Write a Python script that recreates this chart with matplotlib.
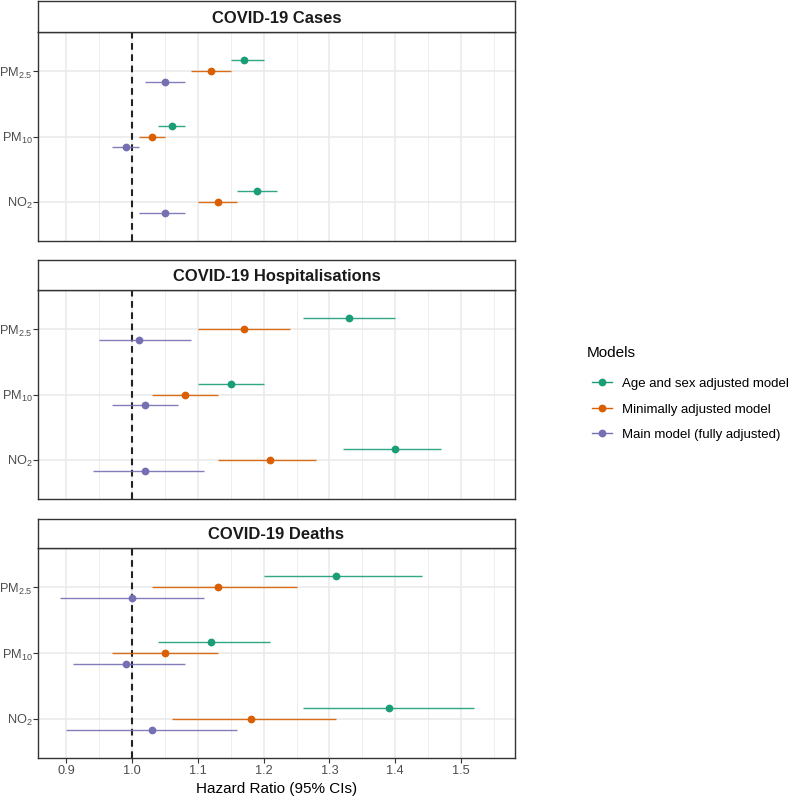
import matplotlib
matplotlib.use("Agg")
import matplotlib.pyplot as plt
from matplotlib.lines import Line2D
import numpy as np

plt.rcParams['font.family'] = ['Liberation Sans', 'DejaVu Sans']
plt.rcParams['mathtext.fontset'] = 'custom'
plt.rcParams['mathtext.rm'] = 'Liberation Sans'
plt.rcParams['mathtext.it'] = 'Liberation Sans:italic'
plt.rcParams['mathtext.bf'] = 'Liberation Sans:bold'

# ---- data ----
outcomes = ["COVID-19 Cases", "COVID-19 Hospitalisations", "COVID-19 Deaths"]
pollutants = ["NO2", "PM10", "PM2.5"]  # bottom -> top
pollutant_labels = [r"NO$_{\mathregular{2}}$", r"PM$_{\mathregular{10}}$", r"PM$_{\mathregular{2.5}}$"]
models = ["Age and sex adjusted model", "Minimally adjusted model", "Main model (fully adjusted)"]
model_colors = ["#1B9E77", "#D95F02", "#7570B3"]

# values ordered [NO2, PM10, PM2.5] per model
cases_est = [[1.19, 1.06, 1.17], [1.13, 1.03, 1.12], [1.05, 0.99, 1.05]]
cases_lo  = [[1.16, 1.04, 1.15], [1.10, 1.01, 1.09], [1.01, 0.97, 1.02]]
cases_hi  = [[1.22, 1.08, 1.20], [1.16, 1.05, 1.15], [1.08, 1.01, 1.08]]

hosp_est = [[1.40, 1.15, 1.33], [1.21, 1.08, 1.17], [1.02, 1.02, 1.01]]
hosp_lo  = [[1.32, 1.10, 1.26], [1.13, 1.03, 1.10], [0.94, 0.97, 0.95]]
hosp_hi  = [[1.47, 1.20, 1.40], [1.28, 1.13, 1.24], [1.11, 1.07, 1.09]]

death_est = [[1.39, 1.12, 1.31], [1.18, 1.05, 1.13], [1.03, 0.99, 1.00]]
death_lo  = [[1.26, 1.04, 1.20], [1.06, 0.97, 1.03], [0.90, 0.91, 0.89]]
death_hi  = [[1.52, 1.21, 1.44], [1.31, 1.13, 1.25], [1.16, 1.08, 1.11]]

x_ticks = [0.9, 1.0, 1.1, 1.2, 1.3, 1.4, 1.5]
x_minor = [0.95, 1.05, 1.15, 1.25, 1.35, 1.45, 1.55]
x_label = "Hazard Ratio (95% CIs)"
legend_title = "Models"

panels = [(cases_est, cases_lo, cases_hi), (hosp_est, hosp_lo, hosp_hi), (death_est, death_lo, death_hi)]

W, H = 790, 800
fig = plt.figure(figsize=(W / 100, H / 100), dpi=100)

left_px, right_px = 38, 515
panel_px = [(32, 241, 1), (290, 499, 260), (548, 758, 519)]  # plot top, plot bottom, strip top

offsets = [0.167, 0.0, -0.167]
grid_col = "#EBEBEB"
border_col = "#333333"

for i, (outcome, (est, lo, hi)) in enumerate(zip(outcomes, panels)):
    top, bot, stop = panel_px[i]
    ax = fig.add_axes([left_px / W, 1 - bot / H, (right_px - left_px) / W, (bot - top) / H])
    ax.set_xlim(0.857, 1.582)
    ax.set_ylim(0.4, 3.6)
    ypos = np.arange(1, len(pollutants) + 1)
    # grids
    for xm in x_minor:
        ax.axvline(xm, color=grid_col, lw=0.6, zorder=0)
    for xt in x_ticks:
        ax.axvline(xt, color=grid_col, lw=1.2, zorder=0)
    for yp in ypos:
        ax.axhline(yp, color=grid_col, lw=1.2, zorder=0)
    ax.axvline(1.0, color="#222222", lw=1.5, ls=(0, (3.2, 2.2)), zorder=1)
    for m in range(len(models)):
        yy = ypos + offsets[m]
        ax.hlines(yy, lo[m], hi[m], color=model_colors[m], lw=1.0, alpha=0.9, zorder=2)
        ax.plot(est[m], yy, 'o', color=model_colors[m], ms=5.6, mec='none', zorder=3)
    ax.set_yticks(ypos)
    ax.set_yticklabels(pollutant_labels, fontsize=9.2, color="#4D4D4D")
    ax.set_xticks(x_ticks)
    ax.tick_params(axis='both', length=3.3, width=0.8, color="#333333", pad=1.5)
    ax.tick_params(axis='y', pad=0.6)
    if i < 2:
        ax.tick_params(axis='x', bottom=False, labelbottom=False)
    else:
        ax.set_xticklabels([f"{v:.1f}" for v in x_ticks], fontsize=9.2, color="#4D4D4D")
        ax.set_xlabel(x_label, fontsize=11, color="black", labelpad=4)
    for s in ax.spines.values():
        s.set_color(border_col)
        s.set_linewidth(1.0)
    # strip
    sax = fig.add_axes([left_px / W, 1 - top / H, (right_px - left_px) / W, (top - stop) / H])
    sax.set_xticks([]); sax.set_yticks([])
    sax.set_facecolor("white")
    for s in sax.spines.values():
        s.set_color(border_col)
        s.set_linewidth(1.0)
    sax.text(0.5, 0.45, outcome, ha='center', va='center', fontsize=11.9, fontweight='bold',
             color="#1A1A1A", transform=sax.transAxes)

fig.text(587 / W, 1 - 353 / H, legend_title, ha='left', va='center', fontsize=11, color="black")
handles = [Line2D([0], [0], color=c, lw=1.0, marker='o', ms=5.6, mec='none') for c in model_colors]
leg = fig.legend(handles, models, loc='upper left',
                 bbox_to_anchor=(580 / W, 1 - 366 / H), frameon=False, fontsize=9.5,
                 handlelength=1.5, handletextpad=0.8, labelspacing=1.0)

fig.savefig("out.png", dpi=100)
